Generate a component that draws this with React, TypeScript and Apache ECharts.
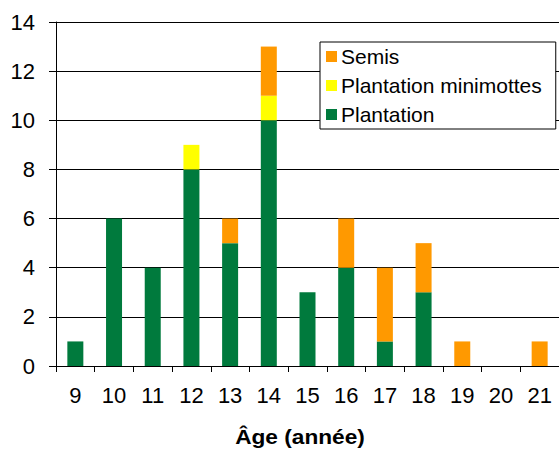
import React, { useEffect, useRef } from "react";
import * as echarts from "echarts";

const ages = ["9", "10", "11", "12", "13", "14", "15", "16", "17", "18", "19", "20", "21"];
const plantation = [1, 6, 4, 8, 5, 10, 3, 4, 1, 3, 0, 0, 0];
const minimottes = [0, 0, 0, 1, 0, 1, 0, 0, 0, 0, 0, 0, 0];
const semis = [0, 0, 0, 0, 1, 2, 0, 2, 3, 2, 1, 0, 1];

const FONT = "'Liberation Sans', Arial, sans-serif";

export default function App() {
  const ref = useRef<HTMLDivElement>(null);

  useEffect(() => {
    if (!ref.current) return;
    const chart = echarts.init(ref.current, null, { renderer: "svg" });
    const bar = (name: string, data: number[], color: string) => ({
      name,
      type: "bar",
      stack: "total",
      data: data.map((v) => (v === 0 ? null : v)),
      barWidth: 16,
      itemStyle: { color },
    });
    chart.setOption({
      animation: false,
      backgroundColor: "#ffffff",
      textStyle: { fontFamily: FONT },
      grid: { left: 56, top: 22, width: 507, height: 344, containLabel: false },
      legend: {
        orient: "vertical",
        left: 320,
        top: 42,
        data: ["Semis", "Plantation minimottes", "Plantation"],
        itemWidth: 11,
        itemHeight: 11,
        itemGap: 8,
        icon: "rect",
        borderColor: "#000000",
        borderWidth: 1,
        backgroundColor: "#ffffff",
        padding: [4, 14, 4, 6],
        textStyle: { fontFamily: FONT, fontSize: 21, color: "#000000", lineHeight: 21, padding: [0, 0, 0, -1] },
      },
      xAxis: {
        type: "category",
        data: ages,
        axisLine: { lineStyle: { color: "#000000", width: 1 } },
        axisTick: { show: true, length: 6, lineStyle: { color: "#000000" } },
        axisLabel: { fontFamily: FONT, fontSize: 22, color: "#000000", margin: 18 },
      },
      yAxis: {
        type: "value",
        min: 0,
        max: 14,
        interval: 2,
        axisLine: { show: true, lineStyle: { color: "#000000", width: 1 } },
        axisTick: { show: true, length: 7, lineStyle: { color: "#000000" } },
        axisLabel: { fontFamily: FONT, fontSize: 22, color: "#000000", margin: 21 },
        splitLine: { lineStyle: { color: "#000000", width: 1 } },
      },
      graphic: [
        {
          type: "text",
          x: 300,
          y: 437,
          scaleX: 1.08,
          style: {
            text: "Âge (année)",
            font: `bold 21px ${FONT}`,
            fill: "#000000",
            textAlign: "center",
            textVerticalAlign: "middle",
          },
        },
      ],
      series: [
        bar("Plantation", plantation, "#007A3D"),
        bar("Plantation minimottes", minimottes, "#FFFF00"),
        bar("Semis", semis, "#FF9900"),
      ],
    });
    return () => chart.dispose();
  }, []);

  return <div ref={ref} style={{ width: 559, height: 452, position: "absolute", left: 0, top: 0 }} />;
}
